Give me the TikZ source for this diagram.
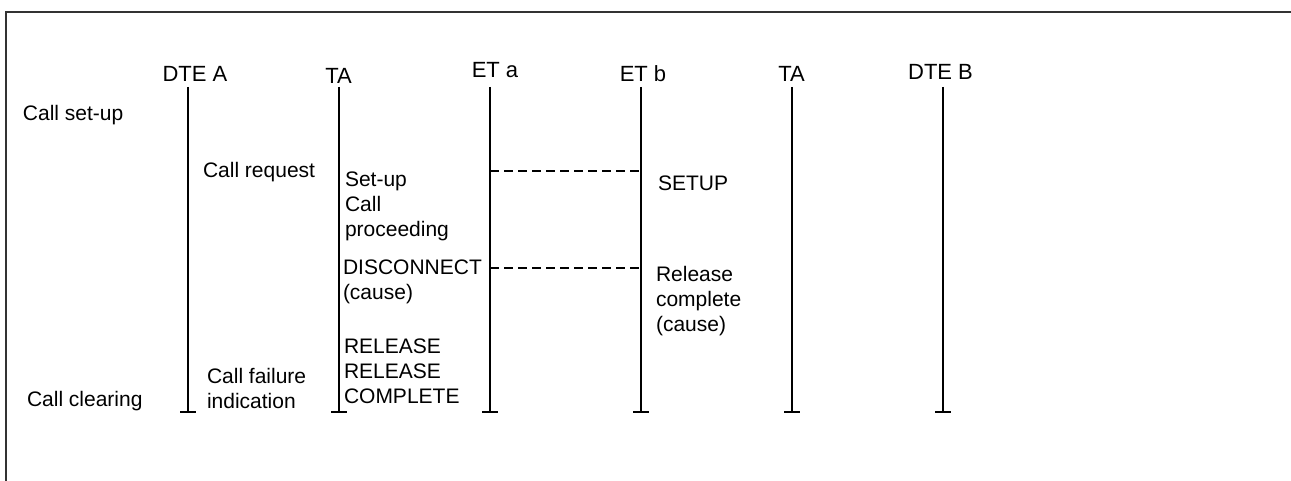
\documentclass[tikz,border=0pt]{standalone}
\usepackage{fontspec}
\setmainfont{Liberation Sans}
\begin{document}
\begin{tikzpicture}[x=0.5pt,y=-0.5pt,
    line width=1pt,
    lbl/.style={anchor=north west,inner sep=0pt,align=left,font=\fontsize{10.5}{12.5}\selectfont},
    hdr/.style={anchor=north,inner sep=0pt,font=\fontsize{11}{13}\selectfont},
    msg/.style={dash pattern=on 4.5pt off 2.5pt}]
    \useasboundingbox (0,0) rectangle (1291,481);

    % 绘制外框
    \coordinate (F) at (6,12);
    \draw[black!80] (1291,12) -- (F) -- (6,481);

    % 绘制各实体的时间线
    \foreach \i/\x/\hx/\hy/\name in {1/188/195/65/DTE A, 2/339/338.5/67/TA, 3/490/495/61/ET a,
        4/641/643/65/ET b, 5/792/791.5/65/TA, 6/943/940.5/63/DTE B} {
        \coordinate (T\i) at (\x,87);
        \coordinate (B\i) at (\x,412);
        \node[hdr] (H\i) at (\hx,\hy) {\name};
        \draw (T\i) -- (B\i);
        \draw ([xshift=-4pt]B\i) -- ([xshift=4pt]B\i);
    }

    % 绘制ET a与ET b之间的虚线
    \coordinate (S3) at (490,171);
    \coordinate (S4) at (641,171);
    \coordinate (D3) at (490,268);
    \coordinate (D4) at (641,268);
    \draw[msg] (S3) -- (S4);
    \draw[msg] (D3) -- (D4);

    % 绘制左侧阶段说明
    \node[lbl] (setup) at (22,104) {Call set-up};
    \node[lbl] (clearing) at (26,390) {Call clearing};

    % 绘制消息文字
    \node[lbl] (req) at (202,161) {Call request};
    \node[lbl] (fail) at (206,367) {Call failure\\indication};
    \node[lbl] (setupmsg) at (344,171) {Set-up\\Call\\proceeding};
    \node[lbl] (disc) at (342,259) {DISCONNECT\\(cause)};
    \node[lbl] (rel) at (343,338) {RELEASE\\RELEASE\\COMPLETE};
    \node[lbl] (setupb) at (657,175) {SETUP};
    \node[lbl] (relcomp) at (655,265) {Release\\complete\\(cause)};

\end{tikzpicture}
\end{document}
